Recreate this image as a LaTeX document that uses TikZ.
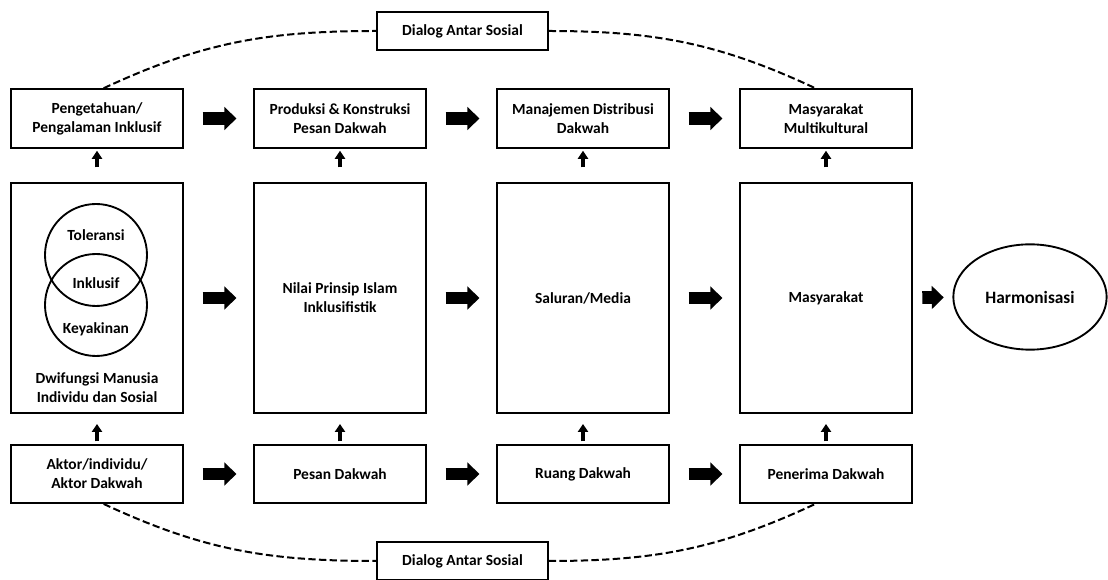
\documentclass[tikz,border=0pt]{standalone}
\usepackage{fontspec}
\setmainfont{Carlito}
\usetikzlibrary{arrows.meta,shapes.geometric}
\tikzset{
  box/.style={draw,line width=1.4pt,minimum width=129pt,align=center,inner sep=0pt,
    font=\bfseries\fontsize{11.6pt}{14.25pt}\selectfont},
  label/.style={align=center,inner sep=0pt,font=\bfseries\fontsize{11.6pt}{14.25pt}\selectfont},
  ring/.style={draw,circle,line width=1.4pt,minimum size=76.5pt},
  fat/.style={line width=9.5pt,-{Triangle[length=9pt,width=17pt]},shorten <=14pt,shorten >=12.5pt},
  uparrow/.style={line width=2.8pt,-{Triangle[length=6pt,width=7.5pt]}},
  link/.style={line width=1.5pt,dash pattern=on 5.5pt off 2.5pt}
}
\begin{document}
\begin{tikzpicture}[x=0.75pt,y=-0.75pt]
  \useasboundingbox (0,0) rectangle (1108,580);
  \node[box,minimum height=44pt] (pk) at (97,118.5) {Pengetahuan/\\Pengalaman Inklusif};
  \node[box,minimum height=44pt] (pr) at (340,118.5) {Produksi \& Konstruksi\\Pesan Dakwah};
  \node[box,minimum height=44pt] (md) at (583,118.5) {Manajemen Distribusi\\Dakwah};
  \node[box,minimum height=44pt] (mm) at (826,118.5) {Masyarakat\\Multikultural};
  \node[box,minimum height=172.5pt] (dw) at (97,298) {};
  \node[box,minimum height=172.5pt] (np) at (340,298) {Nilai Prinsip Islam\\Inklusifistik};
  \node[box,minimum height=172.5pt] (sm) at (583,298) {Saluran/Media};
  \node[box,minimum height=172.5pt] (ms) at (826,298) {Masyarakat};
  \node[box,minimum height=43.5pt] (ak) at (97,474) {Aktor/individu/\\Aktor Dakwah};
  \node[box,minimum height=43.5pt] (pd) at (340,474) {Pesan Dakwah};
  \node[box,minimum height=43.5pt] (rd) at (583,474) {Ruang Dakwah};
  \node[box,minimum height=43.5pt] (pn) at (826,474) {Penerima Dakwah};
  \node[draw,ellipse,line width=1.4pt,minimum width=115pt,minimum height=79pt,
    font=\bfseries\fontsize{13pt}{16pt}\selectfont] (hr) at (1030,297) {Harmonisasi};
  \node[box,minimum width=128pt,minimum height=28.5pt] (dlgt) at (462.5,31) {Dialog Antar Sosial};
  \node[box,minimum width=128pt,minimum height=28.5pt] (dlgb) at (462.5,561) {Dialog Antar Sosial};
  \node[ring] (tol) at (96,255) {};
  \node[ring] (key) at (96,305) {};
  \node[label] (tolt) at (96,235) {Toleransi};
  \node[label] (inkt) at (96,283) {Inklusif};
  \node[label] (keyt) at (96,329) {Keyakinan};
  \node[label] (dwt) at (97,388) {Dwifungsi Manusia\\Individu dan Sosial};
  \foreach \a/\b in {pk/pr,pr/md,md/mm,dw/np,np/sm,sm/ms,ak/pd,pd/rd,rd/pn}
    \draw[fat] (\a) -- (\b);
  \draw[fat,shorten <=7pt,shorten >=6.5pt] (ms) -- (hr);
  \foreach \a/\b in {dw/pk,np/pr,sm/md,ms/mm}
    \draw[uparrow,shorten <=11pt,shorten >=1.5pt] (\a) -- (\b);
  \foreach \a/\b in {ak/dw,pd/np,rd/sm,pn/ms}
    \draw[uparrow,shorten <=2pt,shorten >=7.5pt] (\a) -- (\b);
  \draw[link] ([xshift=5pt]pk.north) to[out=25,in=180] (dlgt.west);
  \draw[link] (dlgt.east) to[out=0,in=155] ([xshift=-8pt]mm.north);
  \draw[link] ([xshift=5pt]ak.south) to[out=-25,in=180] (dlgb.west);
  \draw[link] (dlgb.east) to[out=0,in=-155] ([xshift=-8pt]pn.south);
\end{tikzpicture}
\end{document}
